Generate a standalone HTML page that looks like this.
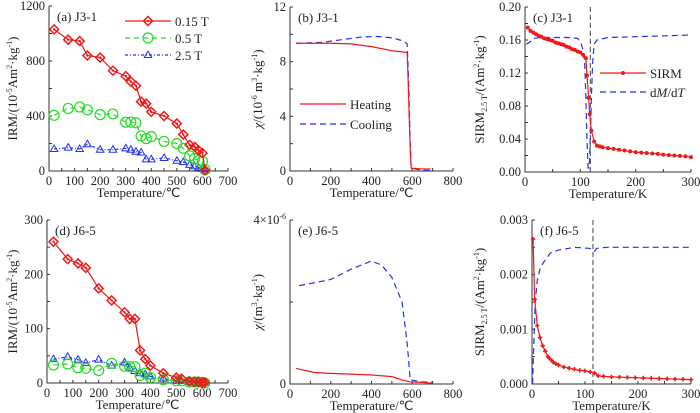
<!DOCTYPE html>
<html><head><meta charset="utf-8"><style>
html,body{margin:0;padding:0;background:#fff}
svg{display:block;font-family:"Liberation Serif",serif}
</style></head><body>
<svg id="c" width="700" height="413" viewBox="0 0 700 413" xmlns="http://www.w3.org/2000/svg"></svg>
<script>
// ---- data ----
const aT=[20,75,120,150,200,250,300,320,340,360,380,400,450,500,525,550,570,585,600,610];
const a015=[1030,955,945,840,825,730,690,650,620,505,490,430,400,345,265,190,175,150,130,5];
const a05=[405,455,465,445,410,415,355,355,350,255,235,250,215,200,165,110,90,75,70,10];
const a25=[160,170,160,195,155,155,165,155,140,135,85,85,95,75,65,45,35,25,15,5];
const dT=[25,80,120,150,200,250,300,320,340,360,380,400,450,500,520,550,570,585,600,610];
const d015=[260,228,220,212,174,152,130,118,118,60,44,32,18,10,8,3,2,2,1,1];
const d05=[33,35,28,27,23,36,31,30,30,14,18,10,6,4,4,2,2,2,1,0];
const d25=[44,48,43,37,43,32,38,28,22,18,16,12,8,4,4,2,2,2,1,1];
const bHeatT=[30,100,200,300,400,500,560,575,580,585,590,595,650,690];
const bHeat=[9.35,9.35,9.35,9.3,9.1,8.8,8.7,8.65,6.5,4,1.5,0.2,0.15,0.15];
const bCoolT=[30,150,250,350,420,500,560,575,580,585,590,595,650,700];
const bCool=[9.35,9.4,9.6,9.8,9.85,9.75,9.5,9.3,7.5,5,2,0.2,0.05,0.05];
const eCoolT=[45,100,200,300,400,450,500,550,575,590,650,700];
const eCool=[2.4,2.45,2.55,2.8,3.0,2.9,2.6,2.0,1.0,0.1,0.05,0.05];
const eHeatT=[30,120,200,300,400,500,550,590,650,700];
const eHeat=[0.38,0.28,0.26,0.24,0.22,0.18,0.1,0.05,0.04,0.02];
const cT=[5,10,15,20,25,30,35,40,45,50,55,60,65,70,75,80,85,90,95,100,105,110,112,115,117,120,125,130,135,140,150,160,170,180,190,200,210,220,230,240,250,260,270,280,290,300];
const cSirm=[0.175,0.171,0.169,0.167,0.165,0.164,0.162,0.161,0.160,0.159,0.157,0.156,0.155,0.154,0.152,0.151,0.149,0.148,0.146,0.145,0.142,0.138,0.117,0.09,0.07,0.05,0.037,0.032,0.031,0.030,0.029,0.028,0.027,0.026,0.025,0.024,0.0235,0.023,0.0225,0.022,0.021,0.0205,0.02,0.0195,0.019,0.018];
const cDT=[2,5,10,15,30,80,95,100,105,108,110,112,114,116,118,120,122,125,130,150,200,300];
const cDmdt=[0.155,0.156,0.158,0.162,0.163,0.163,0.162,0.158,0.148,0.13,0.09,0.04,0.005,0.005,0.04,0.09,0.13,0.155,0.16,0.163,0.164,0.166];
const fT=[2,5,10,15,20,25,30,35,40,45,50,60,70,80,90,100,110,118,125,135,150,165,180,195,210,225,240,255,270,285,300];
const fSirm=[0.00265,0.00155,0.00107,0.00085,0.0007,0.0006,0.0005,0.00045,0.0004,0.00037,0.00035,0.00031,0.00029,0.00027,0.00025,0.00024,0.00022,0.0002,0.00015,0.00014,0.00013,0.000125,0.00012,0.000115,0.00011,0.000105,0.0001,0.000095,0.00009,0.000085,0.00008];
const fDT=[1,3,6,10,15,20,35,50,80,110,115,118,122,140,300];
const fDmdt=[0.0,0.0006,0.0015,0.0019,0.0021,0.0022,0.0024,0.00245,0.0025,0.00248,0.00245,0.00243,0.00248,0.0025,0.0025];

const NS="http://www.w3.org/2000/svg";
const svg=document.getElementById('c');
function el(t,at,parent){const e=document.createElementNS(NS,t);for(const k in at)e.setAttribute(k,at[k]);(parent||svg).appendChild(e);return e;}
function txt(s,x,y,at){const e=el('text',Object.assign({x:x,y:y,'font-size':13,fill:'#222'},at||{}));e.innerHTML=s;return e;}

function panel(o){
  const g=el('g',{});
  
  
  const X=v=>o.x0+(v-o.xmin)/(o.xmax-o.xmin)*(o.x1-o.x0);
  const Y=v=>o.y0-(v-o.ymin)/(o.ymax-o.ymin)*(o.y0-o.y1);
  const ax=el('path',{d:`M${o.x0},${o.y1}V${o.y0}H${o.x1}`,stroke:'#333',fill:'none','stroke-width':1},g);
  
  
  for(let v=o.xmin;v<=o.xmax+1e-9;v+=o.xminor){el('line',{x1:X(v),x2:X(v),y1:o.y0,y2:o.y0-3,stroke:'#333'},g);}
  o.xlabels.forEach(v=>{const t=txt(v,X(v),o.y0+14,{'text-anchor':'middle','font-size':12.5});g.appendChild(t);});
  for(let v=o.ymin;v<=o.ymax+1e-12;v+=o.yminor){el('line',{x1:o.x0,x2:o.x0+3,y1:Y(v),y2:Y(v),stroke:'#333'},g);}
  o.ylabels.forEach((v,i)=>{const t=txt(o.yfmt?o.yfmt(v):v,o.x0-4,Y(v)+4,{'text-anchor':'end','font-size':12.5});g.appendChild(t);});
  const xt=txt(o.xtitle,(o.x0+o.x1)/2,o.y0+26,{'text-anchor':'middle'});
  g.appendChild(xt);
  const yt=txt(o.ytitle,0,0,{'text-anchor':'middle',transform:`translate(${o.ytx},${(o.y0+o.y1)/2}) rotate(-90)`});
  g.appendChild(yt);
  const pl=txt(o.label,o.x0+8,o.y1+15);g.appendChild(pl);
  return {g,X,Y};
}
function series(p,xs,ys,color,dash,marker,name){
  const g=el('g',{},p.g);
  
  
  el('polyline',{points:xs.map((x,i)=>p.X(x)+','+p.Y(ys[i])).join(' '),fill:'none',stroke:color,'stroke-width':1.2,'stroke-dasharray':dash||'none'},g);
  if(marker)xs.forEach((x,i)=>drawMarker(g,marker,p.X(x),p.Y(ys[i]),color));
}
function drawMarker(g,m,x,y,c){
  if(m==='diamond'){el('path',{d:`M${x},${y-4.5}L${x+4.5},${y}L${x},${y+4.5}L${x-4.5},${y}Z`,fill:'none',stroke:c,'stroke-width':1.5},g);el('circle',{cx:x,cy:y,r:1.2,fill:c},g);}
  else if(m==='circle')el('circle',{cx:x,cy:y,r:5,fill:'none',stroke:c,'stroke-width':1.2},g);
  else if(m==='tri')el('path',{d:`M${x},${y-4}L${x+3.8},${y+2.5}L${x-3.8},${y+2.5}Z`,fill:'none',stroke:c,'stroke-width':1},g);
  else if(m==='dot')el('circle',{cx:x,cy:y,r:2,fill:c},g);
  else if(m==='plus'){el('path',{d:`M${x-2.2},${y}H${x+2.2}M${x},${y-2.2}V${y+2.2}`,stroke:c,'stroke-width':1.6},g);}
}
function legend(p,x,y,color,dash,marker,label){
  const g=el('g',{},p.g);
  
  
  el('line',{x1:x,x2:x+46,y1:y,y2:y,stroke:color,'stroke-width':1.2,'stroke-dasharray':dash||'none'},g);
  if(marker)drawMarker(g,marker,x+23,y,color);
  const t=txt(label,x+50,y+5,{});g.appendChild(t);
}
const R='#f01818',G='#22dd22',B='#2233ee';
const TC='Temperature/\u2103';
// (a)
let pa=panel({name:'panel-a',x0:49,x1:228,y0:171,y1:6,xmin:0,xmax:700,ymin:0,ymax:1200,xminor:50,yminor:200,
 xlabels:[0,100,200,300,400,500,600,700],ylabels:[0,400,800,1200],xtitle:TC,ytx:17,
 ytitle:'IRM/(10<tspan font-size="8" dy="-5">-5</tspan><tspan dy="5">Am</tspan><tspan font-size="8" dy="-5">2</tspan><tspan dy="5">\u00b7kg</tspan><tspan font-size="8" dy="-5">-1</tspan><tspan dy="5">)</tspan>',label:'(a) J3-1'});
series(pa,aT,a25,B,'3,2,1,2','tri','series-2.5T');
series(pa,aT,a05,G,'5,4','circle','series-0.5T');
series(pa,aT,a015,R,null,'diamond','series-0.15T');
legend(pa,125,21,R,null,'diamond','0.15 T');legend(pa,125,38,G,'5,4','circle','0.5 T');legend(pa,125,55,B,'3,2,1,2','tri','2.5 T');
// (b)
let pb=panel({name:'panel-b',x0:290,x1:453,y0:171,y1:7,xmin:0,xmax:800,ymin:0,ymax:12,xminor:100,yminor:2,
 xlabels:[0,200,400,600,800],ylabels:[0,4,8,12],xtitle:TC,ytx:262,
 ytitle:'<tspan font-style="italic">\u03c7</tspan>/(10<tspan font-size="8" dy="-5">-6</tspan><tspan dy="5"> m</tspan><tspan font-size="8" dy="-5">3</tspan><tspan dy="5">\u00b7kg</tspan><tspan font-size="8" dy="-5">-1</tspan><tspan dy="5">)</tspan>',label:'(b) J3-1'});
series(pb,bCoolT,bCool,B,'6,4',null,'cooling-curve');
series(pb,bHeatT,bHeat,R,null,null,'heating-curve');
legend(pb,300,104,R,null,null,'Heating');legend(pb,300,124,B,'6,4',null,'Cooling');
// (c)
let pc=panel({name:'panel-c',x0:525,x1:691,y0:172,y1:7,xmin:0,xmax:300,ymin:0,ymax:0.2,xminor:50,yminor:0.02,
 xlabels:[0,100,200,300],ylabels:[0,0.04,0.08,0.12,0.16,0.2],yfmt:v=>v.toFixed(2),xtitle:'Temperature/K',ytx:484,
 ytitle:'SIRM<tspan font-size="8" dy="3">2.5 T</tspan><tspan dy="-3">/(Am</tspan><tspan font-size="8" dy="-5">2</tspan><tspan dy="5">\u00b7kg</tspan><tspan font-size="8" dy="-5">-1</tspan><tspan dy="5">)</tspan>',label:'(c) J3-1'});
el('line',{x1:pc.X(118),x2:pc.X(118),y1:7,y2:172,stroke:'#444','stroke-dasharray':'5,3'},pc.g);
series(pc,cDT,cDmdt,B,'6,4',null,'dMdT-curve');
series(pc,cT,cSirm,R,null,'dot','sirm-curve');
legend(pc,600,73,R,null,'dot','SIRM');legend(pc,600,92,B,'6,4',null,'d<tspan font-style="italic">M</tspan>/d<tspan font-style="italic">T</tspan>');
// (d)
let pd=panel({name:'panel-d',x0:47,x1:228,y0:383,y1:220,xmin:0,xmax:700,ymin:0,ymax:300,xminor:50,yminor:50,
 xlabels:[0,100,200,300,400,500,600,700],ylabels:[0,100,200,300],xtitle:TC,ytx:17,
 ytitle:'IRM/(10<tspan font-size="8" dy="-5">-5</tspan><tspan dy="5">Am</tspan><tspan font-size="8" dy="-5">2</tspan><tspan dy="5">\u00b7kg</tspan><tspan font-size="8" dy="-5">-1</tspan><tspan dy="5">)</tspan>',label:'(d) J6-5'});
series(pd,dT,d25,B,'3,2,1,2','tri','series-2.5T');
series(pd,dT,d05,G,'5,4','circle','series-0.5T');
series(pd,dT,d015,R,null,'diamond','series-0.15T');
// (e)
let pe=panel({name:'panel-e',x0:290,x1:453,y0:384,y1:220,xmin:0,xmax:800,ymin:0,ymax:4,xminor:100,yminor:2,
 xlabels:[0,200,400,600,800],ylabels:[0,4],yfmt:v=>v===0?'0':'4\u00d710<tspan font-size="8" dy="-5">-6</tspan>',xtitle:TC,ytx:262,
 ytitle:'<tspan font-style="italic">\u03c7</tspan>/(m<tspan font-size="8" dy="-5">3</tspan><tspan dy="5">\u00b7kg</tspan><tspan font-size="8" dy="-5">-1</tspan><tspan dy="5">)</tspan>',label:'(e) J6-5'});
series(pe,eCoolT,eCool,B,'6,4',null,'cooling-curve');
series(pe,eHeatT,eHeat,R,null,null,'heating-curve');
// (f)
let pf=panel({name:'panel-f',x0:532,x1:691,y0:384,y1:220,xmin:0,xmax:300,ymin:0,ymax:0.003,xminor:50,yminor:0.0005,
 xlabels:[0,100,200,300],ylabels:[0,0.001,0.002,0.003],yfmt:v=>v.toFixed(3),xtitle:'Temperature/K',ytx:484,
 ytitle:'SIRM<tspan font-size="8" dy="3">2.5 T</tspan><tspan dy="-3">/(Am</tspan><tspan font-size="8" dy="-5">2</tspan><tspan dy="5">\u00b7kg</tspan><tspan font-size="8" dy="-5">-1</tspan><tspan dy="5">)</tspan>',label:'(f) J6-5'});
el('line',{x1:pf.X(115),x2:pf.X(115),y1:220,y2:384,stroke:'#444','stroke-dasharray':'5,3'},pf.g);
series(pf,fDT,fDmdt,B,'6,4',null,'dMdT-curve');
series(pf,fT,fSirm,R,null,'plus','sirm-curve');
</script>
</body></html>
